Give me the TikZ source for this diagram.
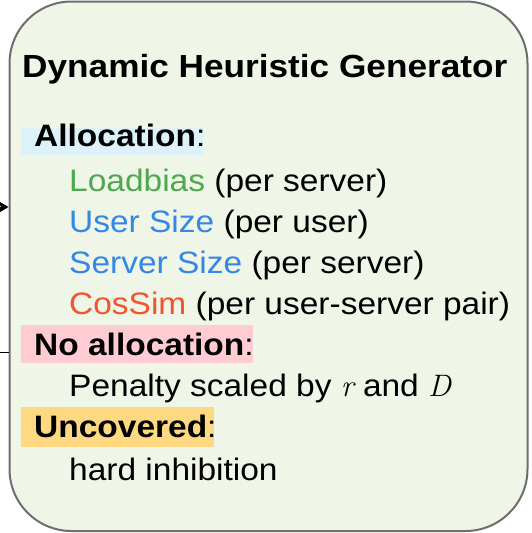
\documentclass[tikz,border=0pt]{standalone}
\usepackage{fontspec}
\usetikzlibrary{arrows.meta}
\newfontfamily\hvfont[FakeStretch=1.08]{Liberation Sans}
\newfontfamily\hvtitle[FakeStretch=1.10]{Liberation Sans}
\newcommand\mvar[1]{{\rmfamily\itshape #1}}
\definecolor{panelfill}{HTML}{EFF5E7}
\definecolor{panelline}{HTML}{6E6E6E}
\definecolor{hlblue}{HTML}{DCF2F8}
\definecolor{hlpink}{HTML}{FFCCD3}
\definecolor{hlyellow}{HTML}{FFD982}
\definecolor{txgreen}{HTML}{4FA84F}
\definecolor{txblue}{HTML}{3388E6}
\definecolor{txred}{HTML}{F2552C}
\tikzset{
  panel/.style={draw=panelline, line width=2pt, fill=panelfill, rounded corners=62pt,
    minimum width=518pt, minimum height=529.5pt, inner sep=0pt},
  title/.style={anchor=base west, inner sep=0pt, font=\hvtitle\bfseries\fontsize{32}{38}\selectfont},
  head/.style={anchor=base west, inner sep=0pt, font=\hvfont\bfseries\fontsize{31}{37}\selectfont},
  item/.style={anchor=base west, inner sep=0pt, font=\hvfont\fontsize{31}{37}\selectfont},
  conn/.style={line width=1pt, black},
}
\begin{document}
\begin{tikzpicture}[x=1pt, y=-1pt]
  \useasboundingbox (0,0) rectangle (531,533);
  % incoming connectors (their far ends lie beyond the page edge)
  \coordinate (inA) at (-30,207);
  \coordinate (inB) at (-30,352);
  % generator panel
  \node[panel] (gen) at (268.5,266.25) {};
  \draw[conn, -{Stealth[length=11pt, width=13pt]}] (inA) -- (inA -| gen.west);
  \draw[conn] (inB) -- (inB -| gen.west);
  % section highlights
  \fill[hlblue]   (21,128) rectangle (203,155);
  \fill[hlpink]   (21,325) rectangle (253,363);
  \fill[hlyellow] (21,407) rectangle (214,447);
  % text
  \node[title] (ttl) at (22,77) {Dynamic Heuristic Generator};
  \node[head] (alloc) at (34,146) {Allocation\textmd{:}};
  \node[item] (lb) at (69,191) {\textcolor{txgreen}{Loadbias} (per server)};
  \node[item] (us) at (69,232) {\textcolor{txblue}{User Size} (per user)};
  \node[item] (ss) at (69,273) {\textcolor{txblue}{Server Size} (per server)};
  \node[item] (cs) at (69,314) {\textcolor{txred}{CosSim} (per user-server pair)};
  \node[head] (noalloc) at (34,355) {No allocation\textmd{:}};
  \node[item] (pen) at (69,396) {Penalty scaled by \mvar{r} and \mvar{D}};
  \node[head] (unc) at (34,437) {Uncovered\textmd{:}};
  \node[item] (hard) at (69,480) {hard inhibition};
\end{tikzpicture}
\end{document}
